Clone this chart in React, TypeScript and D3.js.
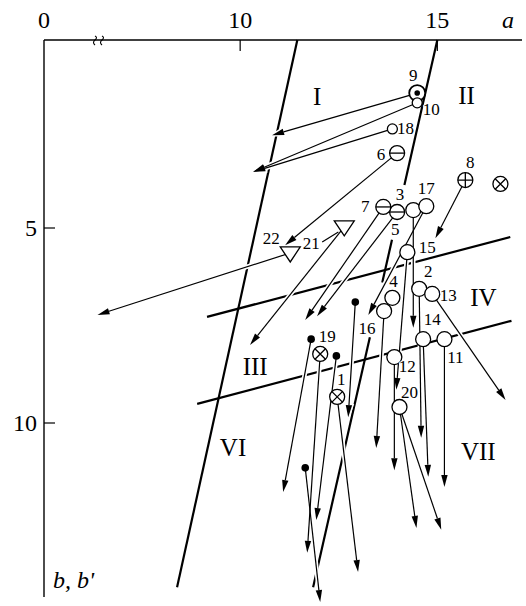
import React from "react";
import * as d3 from "d3";

const W = 526;
const H = 606;

// axis ticks
const xTicks = [10, 15];
const yTicks = [5, 10];

// points (a, b) and marker kind
const pointIds = ["1", "2", "3", "4", "5", "6", "7", "8", "9", "10", "11", "12", "13", "14", "15", "16", "17", "18", "19", "20", "21", "22", "x", "d1", "d2", "d3", "d4"];
const pointA = [12.46, 14.54, 13.98, 13.86, 14.39, 13.98, 13.63, 15.71, 14.49, 14.49, 15.18, 13.91, 14.87, 14.64, 14.24, 13.65, 14.72, 13.86, 12.03, 14.04, 12.64, 11.27, 16.6, 12.92, 11.8, 12.44, 11.65];
const pointB = [9.33, 6.56, 4.59, 6.79, 4.54, 3.08, 4.46, 3.77, 1.54, 1.79, 7.85, 8.31, 6.69, 7.85, 5.62, 7.13, 4.44, 2.46, 8.23, 9.59, 4.97, 5.64, 3.87, 6.9, 7.85, 8.28, 11.15];
const pointKind = ["cross", "open", "minus", "open", "open", "minus", "minus", "plus", "dot", "small", "open", "open", "open", "open", "open", "open", "open", "small", "cross", "open", "tri", "tri", "cross", "fill", "fill", "fill", "fill"];

// arrows: start point id -> end (a, b)
const arrowFrom = ["9", "10", "18", "6", "22", "21", "7", "3", "5", "17", "8", "15", "12", "16", "d1", "d2", "19", "d3", "1", "d4", "2", "14", "11", "13", "20", "20"];
const arrowToA = [10.81, 10.33, 10.33, 11.14, 6.32, 10.25, 11.65, 11.95, 14.39, 13.25, 14.95, 13.96, 13.91, 13.45, 12.74, 11.09, 11.7, 11.93, 12.99, 12.03, 14.59, 14.77, 15.18, 16.73, 14.47, 15.1];
const arrowToB = [2.62, 3.56, 3.56, 5.44, 7.23, 8.0, 7.36, 7.26, 7.56, 7.23, 5.26, 9.15, 11.21, 10.64, 9.85, 11.77, 13.33, 12.49, 13.82, 14.59, 10.38, 11.38, 11.64, 9.41, 12.69, 12.74];

// leader from label 21 to its triangle
const leaderA = [12.08, 12.49];
const leaderB = [5.36, 5.1];

// region boundaries (a, b endpoints)
const boundA = [[11.45, 8.4], [15.0, 11.85], [9.16, 16.85], [8.91, 16.88]];
const boundB = [[0.18, 14.21], [0.18, 14.21], [7.28, 5.23], [9.51, 7.38]];
const rightGapsB = [[3.9, 5.3], [6.4, 7.8]];

// region names
const romanText = ["I", "II", "III", "IV", "VI", "VII"];
const romanA = [11.95, 15.74, 10.38, 16.17, 9.82, 16.04];
const romanB = [1.64, 1.59, 8.56, 6.77, 10.64, 10.74];

const labelOffset: Record<string, [number, number]> = {
  "9": [-4, -18], "10": [14, 7], "18": [13, 0], "6": [-16, 1], "7": [-18, 0],
  "3": [3, -18], "5": [-18, 19], "17": [0, -18], "8": [5, -18], "15": [20, -5],
  "2": [9, -17], "13": [16, 2], "4": [1, -16], "16": [-17, 17], "14": [9, -20],
  "11": [11, 18], "12": [13, 9], "20": [10, -15], "19": [7, -17], "1": [4, -17],
  "22": [-19, -14], "21": [-33, 17],
};

const FONT = "'Liberation Serif', 'Times New Roman', serif";

export default function App() {
  const x = d3.scaleLinear().domain([0, 6.4, 17]).range([44, 98.2, 516.2]);
  const y = d3.scaleLinear().domain([0, 15]).range([33, 618]);
  const axisY = 40;
  const axisX = x(0);
  const axisBottom = 597;

  const byId = new Map(pointIds.map((id, i) => [id, i]));
  const headLen = 12;
  const headW = 3.2;

  const arrows = arrowFrom.map((id, i) => {
    const k = byId.get(id)!;
    const x0 = x(pointA[k]);
    const y0 = y(pointB[k]);
    const x1 = x(arrowToA[i]);
    const y1 = y(arrowToB[i]);
    const len = Math.hypot(x1 - x0, y1 - y0);
    const ux = (x1 - x0) / len;
    const uy = (y1 - y0) / len;
    const bx = x1 - ux * headLen;
    const by = y1 - uy * headLen;
    const head = `M${x1},${y1}L${bx - uy * headW},${by + ux * headW}L${bx + uy * headW},${by - ux * headW}Z`;
    return { x0, y0, bx, by, head };
  });

  // boundary segments, right steep one broken where labels sit
  const segs: [number, number, number, number][] = [];
  boundA.forEach((ends, i) => {
    const [a0, a1] = ends;
    const [b0, b1] = boundB[i];
    const at = (b: number) => a0 + ((b - b0) / (b1 - b0)) * (a1 - a0);
    if (i === 1) {
      let cur = b0;
      rightGapsB.forEach(([g0, g1]) => {
        segs.push([at(cur), cur, at(g0), g0]);
        cur = g1;
      });
      segs.push([at(cur), cur, a1, b1]);
    } else {
      segs.push([a0, b0, a1, b1]);
    }
  });

  const marker = (i: number) => {
    const cx = x(pointA[i]);
    const cy = y(pointB[i]);
    const kind = pointKind[i];
    const sw = 1.3;
    if (kind === "fill") return <circle key={i} cx={cx} cy={cy} r={3.8} fill="#000" />;
    if (kind === "tri") {
      return (
        <path key={i} d={`M${cx - 10},${cy - 6}L${cx + 10},${cy - 6}L${cx},${cy + 9}Z`} fill="#fff" stroke="#000" strokeWidth={sw} />
      );
    }
    const r = kind === "small" ? 5 : kind === "dot" ? 8 : 7.5;
    const d = r * 0.7;
    return (
      <g key={i}>
        <circle cx={cx} cy={cy} r={r} fill="#fff" stroke="#000" strokeWidth={kind === "dot" ? 1.8 : sw} />
        {kind === "minus" && <line x1={cx - r} x2={cx + r} y1={cy} y2={cy} stroke="#000" strokeWidth={sw} />}
        {kind === "plus" && (
          <path d={`M${cx - r},${cy}H${cx + r}M${cx},${cy - r}V${cy + r}`} stroke="#000" strokeWidth={sw} />
        )}
        {kind === "cross" && (
          <path d={`M${cx - d},${cy - d}L${cx + d},${cy + d}M${cx - d},${cy + d}L${cx + d},${cy - d}`} stroke="#000" strokeWidth={sw} />
        )}
        {kind === "dot" && <circle cx={cx} cy={cy} r={2.8} fill="#000" />}
      </g>
    );
  };

  return (
    <svg width={W} height={H} style={{ position: "fixed", left: 0, top: 0, background: "#fff" }} fontFamily={FONT}>
      <rect width={W} height={H} fill="#fff" />

      {/* axes */}
      <line x1={axisX} x2={W - 4} y1={axisY} y2={axisY} stroke="#000" strokeWidth={1.4} />
      <line x1={axisX} x2={axisX} y1={axisY} y2={axisBottom} stroke="#000" strokeWidth={1.4} />
      {[95, 102].map((bx) => (
        <path key={bx} d={`M${bx},36 q3,1.5 0,4 q-3,2.5 0,5`} fill="none" stroke="#000" strokeWidth={1.1} />
      ))}
      {xTicks.map((t) => (
        <line key={t} x1={x(t)} x2={x(t)} y1={axisY} y2={axisY + 11} stroke="#000" strokeWidth={1.2} />
      ))}
      {[0, ...xTicks].map((t) => (
        <text key={t} x={x(t)} y={28} textAnchor="middle" fontSize={24}>{t}</text>
      ))}
      <text x={508} y={28} textAnchor="middle" fontSize={24} fontStyle="italic">a</text>
      {yTicks.map((t) => (
        <g key={t}>
          <line x1={axisX} x2={axisX + 11} y1={y(t)} y2={y(t)} stroke="#000" strokeWidth={1.2} />
          <text x={axisX - 7} y={y(t)} textAnchor="end" dominantBaseline="central" fontSize={24}>{t}</text>
        </g>
      ))}
      <text x={53} y={588} fontSize={24} fontStyle="italic">b, b'</text>

      {/* boundaries */}
      {segs.map(([a0, b0, a1, b1], i) => (
        <line key={i} x1={x(a0)} y1={y(b0)} x2={x(a1)} y2={y(b1)} stroke="#000" strokeWidth={2.2} />
      ))}

      {/* arrow halos, then arrows */}
      {arrows.map((r, i) => (
        <g key={i}>
          <line x1={r.x0} y1={r.y0} x2={r.bx} y2={r.by} stroke="#fff" strokeWidth={4.5} />
          <path d={r.head} fill="#fff" stroke="#fff" strokeWidth={3} />
        </g>
      ))}
      {arrows.map((r, i) => (
        <g key={i}>
          <line x1={r.x0} y1={r.y0} x2={r.bx} y2={r.by} stroke="#000" strokeWidth={1.2} />
          <path d={r.head} fill="#000" />
        </g>
      ))}
      <line x1={x(leaderA[0])} y1={y(leaderB[0])} x2={x(leaderA[1])} y2={y(leaderB[1])} stroke="#000" strokeWidth={1.2} />

      {/* markers */}
      {pointIds.map((_, i) => marker(i))}

      {/* point numbers */}
      {pointIds.map((id, i) => {
        const off = labelOffset[id];
        if (!off) return null;
        return (
          <text
            key={id}
            x={x(pointA[i]) + off[0]}
            y={y(pointB[i]) + off[1]}
            textAnchor="middle"
            dominantBaseline="central"
            fontSize={17}
            stroke="#fff"
            strokeWidth={2}
            paintOrder="stroke"
          >
            {id}
          </text>
        );
      })}

      {/* region numerals */}
      {romanText.map((t, i) => (
        <text key={t} x={x(romanA[i])} y={y(romanB[i])} textAnchor="middle" dominantBaseline="central" fontSize={25}>
          {t}
        </text>
      ))}
    </svg>
  );
}
